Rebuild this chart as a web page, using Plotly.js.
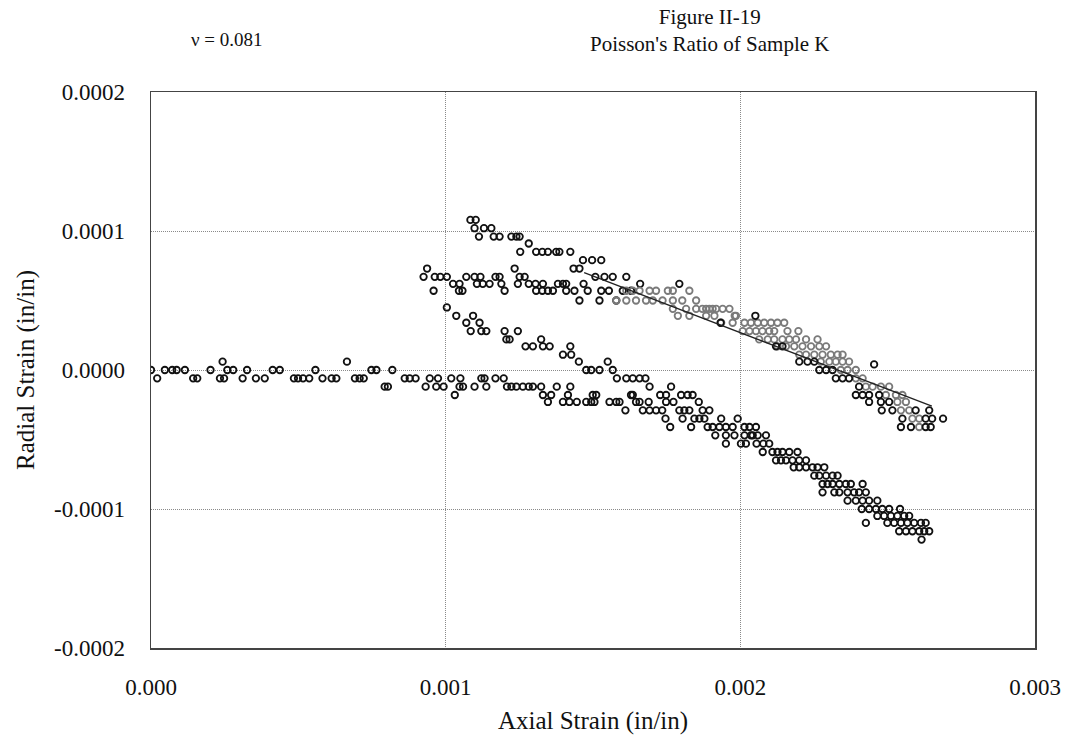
<!DOCTYPE html>
<html>
<head>
<meta charset="utf-8">
<script src="https://cdn.plot.ly/plotly-3.0.1.min.js"></script>
<style>html,body{margin:0;padding:0;background:#fff;}</style>
</head>
<body>
<div id="chart" style="width:1071px;height:748px;"></div>
<script>
// Initial flat loading portion
const flatX = [0.000000,0.000021,0.000047,0.000072,0.000087,0.000115,0.000143,0.000157,0.000202,0.000243,0.000234,0.000248,0.000259,0.000279,0.000311,0.000326,0.000356,0.000386,0.000413,0.000437,0.000485,0.000499,0.000516,0.000537,0.000558,0.000582,0.000613,0.000629,0.000665,0.000692,0.000708,0.000722,0.000748,0.000765,0.000793,0.000804,0.000819,0.000861,0.000878,0.000898,0.000932,0.000946,0.000968,0.000974,0.000993,0.001019,0.001031];
const flatY = [0,-0.000006,0,0,0,0,-0.000006,-0.000006,0,0.000006,-0.000006,-0.000006,0,0,-0.000006,0,-0.000006,-0.000006,0,0,-0.000006,-0.000006,-0.000006,-0.000006,0,-0.000006,-0.000006,-0.000006,0.000006,-0.000006,-0.000006,-0.000006,0,0,-0.000012,-0.000012,0,-0.000006,-0.000006,-0.000006,-0.000012,-0.000006,-0.000012,-0.000006,-0.000012,-0.000006,-0.000018];

// Lower branch
const lowerX = [0.001050,0.001047,0.001059,0.001098,0.001121,0.001132,0.001138,0.001169,0.001197,0.001208,0.001223,0.001240,0.001262,0.001282,0.001296,0.001324,0.001330,0.001358,0.001347,0.001377,0.001423,0.001415,0.001398,0.001420,0.001445,0.001477,0.001499,0.001511,0.001494,0.001505,0.001556,0.001579,0.001590,0.001610,0.001629,0.001646,0.001658,0.001689,0.001669,0.001692,0.001714,0.001735,0.001728,0.001748,0.001765,0.001748,0.001773,0.001746,0.001762,0.001799,0.001821,0.001838,0.001793,0.001810,0.001827,0.001804,0.001833,0.001859,0.001844,0.001861,0.001878,0.001872,0.001895,0.001889,0.001906,0.001929,0.001951,0.001974,0.001915,0.001951,0.001980,0.001935,0.001991,
0.001951,0.002002,0.002019,0.002014,0.002031,0.002053,0.002014,0.002036,0.002042,0.002059,0.002087,0.002055,0.002078,0.002098,
0.002076,0.002109,0.002126,0.002143,0.002166,0.002194,
0.002121,0.002138,0.002155,0.002177,0.002200,0.002223,
0.002181,0.002200,0.002223,0.002245,0.002262,0.002285,
0.002251,0.002268,0.002291,0.002313,0.002330,
0.002279,0.002296,0.002313,0.002336,0.002358,0.002375,0.002415,
0.002279,0.002319,0.002336,0.002364,0.002386,0.002403,0.002426,
0.002364,0.002392,0.002415,0.002437,0.002465,
0.002412,0.002437,0.002460,0.002482,0.002505,0.002542,
0.002465,0.002488,0.002511,0.002533,0.002556,0.002573,
0.002426,0.002499,0.002522,0.002545,0.002567,0.002590,0.002613,0.002629,
0.002539,0.002562,0.002584,0.002607,0.002624,0.002641,
0.002615];
const lowerY = [-0.000006,-0.000012,-0.000012,-0.000012,-0.000006,-0.000006,-0.000012,-0.000006,-0.000006,-0.000012,-0.000012,-0.000012,-0.000012,-0.000012,-0.000012,-0.000012,-0.000018,-0.000018,-0.000023,-0.000012,-0.000012,-0.000018,-0.000023,-0.000023,-0.000023,-0.000023,-0.000018,-0.000018,-0.000023,-0.000023,-0.000023,-0.000023,-0.000023,-0.000029,-0.000018,-0.000023,-0.000023,-0.000023,-0.000029,-0.000029,-0.000029,-0.000029,-0.000018,-0.000018,-0.000012,-0.000023,-0.000023,-0.000035,-0.000041,-0.000018,-0.000018,-0.000018,-0.000029,-0.000029,-0.000029,-0.000035,-0.000041,-0.000023,-0.000035,-0.000035,-0.000035,-0.000029,-0.000029,-0.000041,-0.000041,-0.000041,-0.000041,-0.000041,-0.000047,-0.000047,-0.000047,-0.000035,-0.000035,
-0.000053,-0.000053,-0.000053,-0.000041,-0.000041,-0.000041,-0.000047,-0.000047,-0.000047,-0.000047,-0.000047,-0.000053,-0.000053,-0.000053,
-0.000059,-0.000059,-0.000059,-0.000059,-0.000059,-0.000059,
-0.000065,-0.000065,-0.000065,-0.000065,-0.000065,-0.000065,
-0.000070,-0.000070,-0.000070,-0.000070,-0.000070,-0.000070,
-0.000076,-0.000076,-0.000076,-0.000076,-0.000076,
-0.000082,-0.000082,-0.000082,-0.000082,-0.000082,-0.000082,-0.000082,
-0.000088,-0.000088,-0.000088,-0.000088,-0.000088,-0.000088,-0.000088,
-0.000094,-0.000094,-0.000094,-0.000094,-0.000094,
-0.000100,-0.000100,-0.000100,-0.000100,-0.000100,-0.000100,
-0.000105,-0.000105,-0.000105,-0.000105,-0.000105,-0.000105,
-0.000110,-0.000110,-0.000110,-0.000110,-0.000110,-0.000110,-0.000110,-0.000110,
-0.000116,-0.000116,-0.000116,-0.000116,-0.000116,-0.000116,
-0.000122];

// Unloading branch descending from ~0.001
const unloadX = [0.001004,0.001036,0.001070,0.001093,0.001115,0.001085,0.001121,0.001138,0.001200,0.001206,0.001217,0.001245,0.001271,0.001296,0.001324,0.001330,0.001353,0.001423,0.001398,0.001426,0.001452,0.001477,0.001494,0.001522,0.001550,0.001567,0.001581,0.001613,0.001635,0.001658,0.001678,0.001692,0.001635];
const unloadY = [0.000045,0.000039,0.000034,0.000039,0.000034,0.000028,0.000028,0.000028,0.000028,0.000022,0.000022,0.000028,0.000017,0.000017,0.000022,0.000017,0.000017,0.000017,0.000011,0.000011,0.000006,0,0,0,0.000006,0,-0.000006,-0.000006,-0.000006,-0.000006,-0.000006,-0.000012,-0.000018];

// Middle branch starting near 0.00092
const middleX = [0.000937,0.000925,0.000963,0.000982,0.001004,0.000959,0.001025,0.001047,0.001045,0.001057,0.001070,0.001098,0.001118,0.001106,0.001126,0.001149,0.001169,0.001183,0.001189,0.001200,0.001234,0.001251,0.001268,0.001245,0.001282,0.001305,0.001330,0.001307,0.001328,0.001347,0.001364,0.001381,0.001398,0.001409,0.001409,0.001437,0.001454,0.001468,0.001482,0.001522,0.001528,0.001554,0.001579,0.001601,0.001629];
const middleY = [0.000073,0.000067,0.000067,0.000067,0.000067,0.000057,0.000062,0.000062,0.000057,0.000057,0.000067,0.000067,0.000067,0.000062,0.000062,0.000062,0.000067,0.000067,0.000062,0.000057,0.000073,0.000067,0.000067,0.000062,0.000062,0.000062,0.000062,0.000057,0.000057,0.000057,0.000057,0.000062,0.000062,0.000062,0.000057,0.000057,0.000050,0.000062,0.000057,0.000050,0.000057,0.000057,0.000050,0.000057,0.000057];

// Upper branch starting near 0.00108
const upperX = [0.001084,0.001102,0.001098,0.001113,0.001130,0.001155,0.001163,0.001183,0.001223,0.001240,0.001251,0.001253,0.001282,0.001307,0.001328,0.001347,0.001375,0.001386,0.001423,0.001466,0.001497,0.001528,0.001434,0.001454,0.001508,0.001539,0.001567,0.001613,0.001660,0.001793];
const upperY = [0.000108,0.000108,0.000102,0.000096,0.000102,0.000102,0.000096,0.000096,0.000096,0.000096,0.000096,0.000085,0.000091,0.000085,0.000085,0.000085,0.000085,0.000085,0.000085,0.000079,0.000079,0.000079,0.000073,0.000073,0.000067,0.000067,0.000067,0.000067,0.000062,0.000062];

// Dense upper-right band (grey markers)
const bandX = [0.001613,0.001635,0.001658,0.001692,0.001714,0.001754,0.001771,0.001827,
0.001579,0.001613,0.001646,0.001680,0.001703,0.001736,0.001771,0.001803,0.001850,
0.001771,0.001816,0.001850,0.001884,0.001906,0.001940,0.001963,0.001871,0.001895,0.001918,
0.001788,0.001827,0.001884,0.001912,0.001985,0.001981,
0.001935,0.001974,0.002014,0.002036,0.002059,0.002081,0.002104,0.002126,0.002149,
0.002008,0.002031,0.002053,0.002075,0.002098,0.002115,0.002160,0.002197,
0.002064,0.002093,0.002115,0.002143,0.002166,0.002189,0.002223,0.002262,
0.002126,0.002155,0.002183,0.002211,0.002240,0.002268,0.002291,
0.002200,0.002223,0.002251,0.002279,0.002307,0.002330,0.002347,
0.002273,0.002302,0.002324,0.002347,0.002369,
0.002341,0.002364,0.002392,
0.002392,0.002415,
0.002426,0.002449,0.002477,0.002505,
0.002494,0.002528,0.002550,
0.002533,0.002562,
0.002545,0.002573,
0.002584,0.002607,
0.002607];
const bandY = [0.000057,0.000057,0.000057,0.000057,0.000057,0.000057,0.000057,0.000057,
0.000050,0.000050,0.000050,0.000050,0.000050,0.000050,0.000050,0.000050,0.000050,
0.000044,0.000044,0.000044,0.000044,0.000044,0.000044,0.000044,0.000044,0.000044,0.000044,
0.000039,0.000039,0.000039,0.000039,0.000039,0.000039,
0.000034,0.000034,0.000034,0.000034,0.000034,0.000034,0.000034,0.000034,0.000034,
0.000028,0.000028,0.000028,0.000028,0.000028,0.000028,0.000028,0.000028,
0.000022,0.000022,0.000022,0.000022,0.000022,0.000022,0.000022,0.000022,
0.000017,0.000017,0.000017,0.000017,0.000017,0.000017,0.000017,
0.000011,0.000011,0.000011,0.000011,0.000011,0.000011,0.000011,
0.000006,0.000006,0.000006,0.000006,0.000006,
0,0,0,
-0.000006,-0.000006,
-0.000012,-0.000012,-0.000012,-0.000012,
-0.000018,-0.000018,-0.000018,
-0.000023,-0.000023,
-0.000029,-0.000029,
-0.000035,-0.000035,
-0.000041];

// Black markers mixed into the upper-right band
const bandBlackX = [0.001933,0.002051,0.002121,0.002143,0.002200,0.002228,0.002251,0.002268,0.002291,0.002313,0.002324,0.002347,0.002369,0.002403,0.002392,0.002415,0.002437,0.002471,0.002437,0.002477,0.002505,0.002480,0.002516,0.002595,0.002641,0.002550,0.002629,0.002651,0.002688,0.002545,0.002579,0.002629,0.002646,0.002454];
const bandBlackY = [0.000034,0.000039,0.000017,0.000017,0.000006,0.000006,0.000006,0,0,0,-0.000006,-0.000006,-0.000006,-0.000012,-0.000018,-0.000018,-0.000018,-0.000018,-0.000023,-0.000023,-0.000023,-0.000029,-0.000029,-0.000029,-0.000029,-0.000035,-0.000035,-0.000035,-0.000035,-0.000041,-0.000041,-0.000041,-0.000041,0.000004];

// Linear fit (nu = 0.081)
const fitX = [0.00147, 0.00265];
const fitY = [0.000070, -0.000026];

const xTicks = [0, 0.001, 0.002, 0.003];
const xTickText = ['0.000', '0.001', '0.002', '0.003'];
const yTicks = [-0.0002, -0.0001, 0, 0.0001, 0.0002];
const yTickText = ['-0.0002', '-0.0001', '0.0000', '0.0001', '0.0002'];

const FONT = 'Liberation Serif, Times New Roman, serif';
const blackMarker = {symbol: 'circle-open', size: 6.5, color: '#111', line: {width: 1.8, color: '#111'}};
const greyMarker = {symbol: 'circle-open', size: 6.5, color: '#7a7a7a', line: {width: 1.8, color: '#7a7a7a'}};

function pts(x, y, marker) {
  return {x: x, y: y, type: 'scatter', mode: 'markers', marker: marker, hoverinfo: 'x+y', showlegend: false};
}

const traces = [
  pts(flatX, flatY, blackMarker),
  pts(lowerX, lowerY, blackMarker),
  pts(unloadX, unloadY, blackMarker),
  pts(middleX, middleY, blackMarker),
  pts(upperX, upperY, blackMarker),
  pts(bandX, bandY, greyMarker),
  pts(bandBlackX, bandBlackY, blackMarker),
  {x: fitX, y: fitY, type: 'scatter', mode: 'lines', line: {color: '#222', width: 1.3}, showlegend: false}
];

const layout = {
  width: 1071, height: 748,
  margin: {l: 151, r: 36, t: 92, b: 100},
  paper_bgcolor: '#fff', plot_bgcolor: '#fff',
  font: {family: FONT, color: '#111', size: 23},
  showlegend: false,
  xaxis: {
    range: [0, 0.003], tickvals: xTicks, ticktext: xTickText,
    showgrid: true, gridcolor: '#8a8a8a', griddash: '1px,1px', gridwidth: 1,
    zeroline: false, showline: true, mirror: true, linecolor: '#444', linewidth: 1.5,
    ticks: '', ticklabelstandoff: 18,
    tickfont: {family: FONT, size: 23, color: '#111'},
    title: {text: 'Axial Strain (in/in)', font: {family: FONT, size: 25, color: '#111'}, standoff: 12}
  },
  yaxis: {
    range: [-0.0002, 0.0002], tickvals: yTicks, ticktext: yTickText,
    showgrid: true, gridcolor: '#8a8a8a', griddash: '1px,1px', gridwidth: 1,
    zeroline: false, showline: true, mirror: true, linecolor: '#444', linewidth: 1.5,
    ticks: '', ticklabelstandoff: 20,
    tickfont: {family: FONT, size: 23, color: '#111'},
    title: {text: 'Radial Strain (in/in)', font: {family: FONT, size: 25, color: '#111'}, standoff: 12}
  },
  annotations: [
    {text: "Figure II-19<br>Poisson's Ratio of Sample K", xref: 'paper', yref: 'paper', x: 0.632, y: 1.1115, xanchor: 'center', yanchor: 'middle', align: 'center', showarrow: false, font: {family: FONT, size: 21, color: '#111'}},
    {text: 'ν = 0.081', xref: 'paper', yref: 'paper', x: 0.086, y: 1.094, xanchor: 'center', yanchor: 'middle', showarrow: false, font: {family: FONT, size: 19, color: '#111'}}
  ]
};

Plotly.newPlot('chart', traces, layout, {displayModeBar: false, staticPlot: true});
</script>
</body>
</html>
